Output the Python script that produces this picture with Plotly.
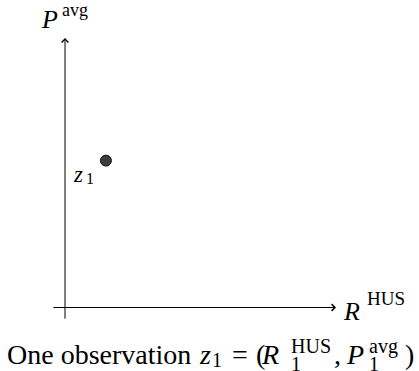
import plotly.graph_objects as go

# One observation in the (R^HUS, P^avg) plane
obs_R = [0.151]
obs_P = [0.545]
obs_names = ["<i>z</i>"]
obs_index = ["1"]

# Axis extents (data units) for the hand-drawn arrows
x_axis_from, x_axis_to = -0.048, 1.0
y_axis_from, y_axis_to = -0.047, 1.0

W, H = 419, 371
SERIF = "Liberation Serif"

# pixel placement of the drawing area: origin and one data unit
X0, XU = 65, 271
Y0, YU = 307.5, 269.5

fig = go.Figure()

fig.add_trace(go.Scatter(
    x=obs_R, y=obs_P, mode="markers",
    marker=dict(size=11, color="#3c3c3c", line=dict(color="#111111", width=1)),
    hoverinfo="skip", showlegend=False,
))

annotations = []

arrow_style = dict(showarrow=True, arrowhead=4, arrowsize=1.3, arrowwidth=1,
                   arrowcolor="black", text="", xref="x", yref="y",
                   axref="x", ayref="y")
# vertical axis arrow
annotations.append(dict(x=0, y=y_axis_to, ax=0, ay=y_axis_from, **arrow_style))
# horizontal axis arrow
annotations.append(dict(x=x_axis_to, y=0, ax=x_axis_from, ay=0, **arrow_style))


def txt(px, py, text, size, anchor="left"):
    """Place text with its left edge at px and its vertical centre at py (pixels)."""
    annotations.append(dict(
        x=px / W, y=1 - py / H, xref="paper", yref="paper",
        xanchor=anchor, yanchor="middle", showarrow=False, borderpad=0,
        text=text, font=dict(family=SERIF, size=size, color="black"),
    ))


# axis titles
txt(40, 19, "<i>P</i>", 26)
txt(61, 10, "avg", 18)
txt(342, 311, "<i>R</i>", 26)
txt(366, 298, "HUS", 19)

# point label, placed relative to the observation it names
for rx, py, name, idx in zip(obs_R, obs_P, obs_names, obs_index):
    cx = X0 + rx * XU
    cy = Y0 - py * YU
    txt(cx - 34, cy + 14, name, 23)
    txt(cx - 21, cy + 18, idx, 16)

# caption, assembled from pieces so sub/superscripts can stack
base = 354
txt(6, base, "One observation", 28)
txt(198, base, "<i>z</i>", 28)
txt(211, base + 6, "1", 20)
txt(231, base, "=", 28)
txt(255, base, "(", 28)
txt(260, base, "<i>R</i>", 28)
txt(290, base - 8, "HUS", 20)
txt(290, base + 10, "1", 20)
txt(333, base, ",", 28)
txt(345, base, "<i>P</i>", 28)
txt(368, base - 8, "avg", 20)
txt(368, base + 10, "1", 20)
txt(404, base, ")", 28)

fig.update_layout(
    width=W, height=H,
    margin=dict(l=0, r=0, t=0, b=0),
    paper_bgcolor="white", plot_bgcolor="white",
    xaxis=dict(range=[-X0 / XU, (W - X0) / XU], visible=False, fixedrange=True),
    yaxis=dict(range=[(Y0 - H) / YU, Y0 / YU], visible=False, fixedrange=True),
    annotations=annotations,
)

fig.write_html("out.html")
